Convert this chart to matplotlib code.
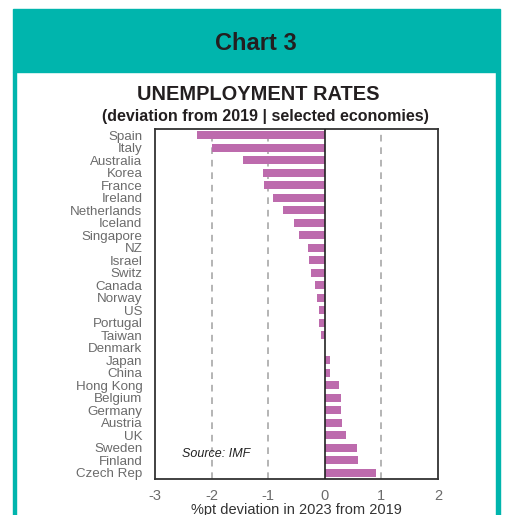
import matplotlib.pyplot as plt
from matplotlib.patches import Rectangle

plt.rcParams['font.family'] = ['Liberation Sans', 'DejaVu Sans']
plt.rcParams['axes.unicode_minus'] = False

countries = ["Spain", "Italy", "Australia", "Korea", "France", "Ireland",
             "Netherlands", "Iceland", "Singapore", "NZ", "Israel", "Switz",
             "Canada", "Norway", "US", "Portugal", "Taiwan", "Denmark",
             "Japan", "China", "Hong Kong", "Belgium", "Germany", "Austria",
             "UK", "Sweden", "Finland", "Czech Rep"]
deviation = [-2.25, -2.0, -1.44, -1.10, -1.07, -0.92,
             -0.74, -0.54, -0.45, -0.30, -0.28, -0.25,
             -0.17, -0.13, -0.11, -0.11, -0.065, 0.0,
             0.09, 0.09, 0.25, 0.28, 0.29, 0.31,
             0.38, 0.57, 0.58, 0.91]
xticks = [-3, -2, -1, 0, 1, 2]

teal = "#00B5AD"
bar_col = "#BD6BAD"
grey = "#6b6b6b"

W, H = 506, 515
fig = plt.figure(figsize=(W / 100, H / 100), dpi=100)

# ---- teal header and frame ---- #
fig.patches.append(Rectangle((13 / W, 1 - 72 / H), 487 / W, 63 / H,
                             transform=fig.transFigure, color=teal, zorder=0))
fig.patches.append(Rectangle((13 / W, 0), 3.5 / W, 1 - 72 / H,
                             transform=fig.transFigure, color=teal, zorder=0))
fig.patches.append(Rectangle((496.5 / W, 0), 3.5 / W, 1 - 72 / H,
                             transform=fig.transFigure, color=teal, zorder=0))

fig.text(256 / W, 1 - 43 / H, "Chart 3", ha="center", va="center",
         fontsize=17, fontweight="bold", color="#231f20")
fig.text(258 / W, 1 - 95 / H, "UNEMPLOYMENT RATES", ha="center", va="center",
         fontsize=14.4, fontweight="bold", color="#231f20")
fig.text(265 / W, 1 - 117 / H, "(deviation from 2019 | selected economies)",
         ha="center", va="center", fontsize=11.5, fontweight="bold", color="#231f20")

# ---- bars ---- #
ax = fig.add_axes([155 / W, 1 - 479 / H, 283 / W, 350 / H])
ypos = list(range(len(countries)))
ax.barh(ypos, deviation, height=0.66, color=bar_col, zorder=3)
ax.set_ylim(len(countries) - 0.5, -0.5)
ax.set_xlim(-3, 2)

for g in [-2, -1, 1]:
    ax.axvline(g, color="#a8a8a8", lw=1.2, ls=(0, (4, 3.5)), zorder=1)
ax.axvline(0, color="#222222", lw=1.2, zorder=4)

ax.set_yticks(ypos)
ax.set_yticklabels(countries)
ax.set_xticks(xticks)
ax.tick_params(axis="y", length=0, pad=9, labelsize=9.6, labelcolor=grey)
ax.tick_params(axis="x", length=0, pad=7, labelsize=10.5, labelcolor=grey)
for s in ax.spines.values():
    s.set_color("#333333")
    s.set_linewidth(1.3)

ax.set_xlabel("%pt deviation in 2023 from 2019", fontsize=10.5,
              color="#333333", labelpad=0)
ax.text(-2.52, 25.5, "Source: IMF", fontsize=9, style="italic",
        color="#222222", va="center", ha="left")

fig.savefig("out.png", dpi=100)
